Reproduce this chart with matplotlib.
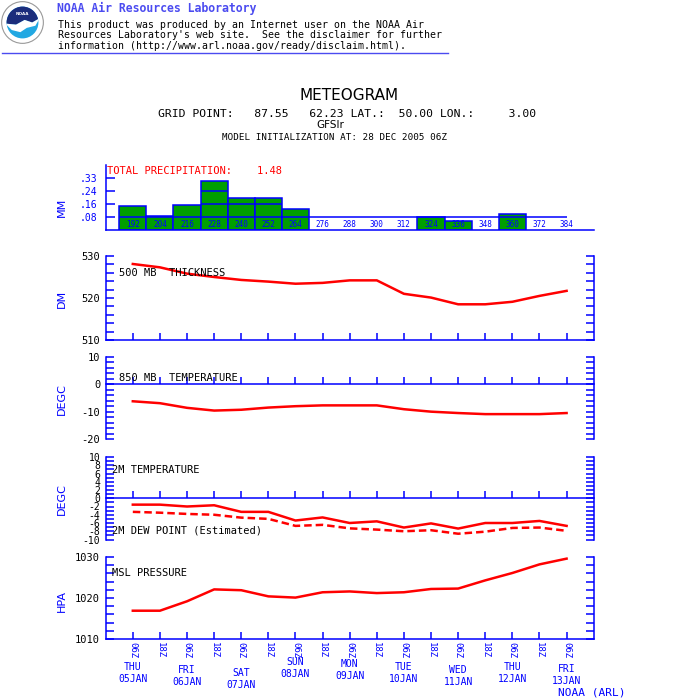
import matplotlib
matplotlib.use('Agg')
import matplotlib.pyplot as plt
import matplotlib.transforms as mtrans
from matplotlib.patches import Circle, Polygon
import numpy as np

plt.rcParams['font.family'] = ['DejaVu Sans Mono']

# forecast hours (from 28 DEC 2005 06Z)
hours = [192, 204, 216, 228, 240, 252, 264, 276, 288, 300, 312, 324, 336, 348, 360, 372, 384]
precip = [0.15, 0.09, 0.16, 0.31, 0.20, 0.20, 0.135, 0, 0, 0, 0, 0.08, 0.055, 0, 0.10, 0, 0]
thick500 = [528.1, 527.3, 525.8, 525.0, 524.3, 523.9, 523.4, 523.6, 524.2, 524.2,
            521.0, 520.1, 518.5, 518.5, 519.1, 520.5, 521.7]
t850 = [-6.2, -6.9, -8.6, -9.6, -9.3, -8.5, -8.0, -7.7, -7.7, -7.7,
        -9.1, -10.0, -10.5, -10.9, -10.9, -10.9, -10.5]
t2m = [-1.55, -1.55, -2.0, -1.7, -3.3, -3.3, -5.4, -4.65, -6.0, -5.6,
       -7.1, -6.1, -7.35, -6.0, -6.0, -5.5, -6.7]
td2m = [-3.3, -3.5, -3.8, -4.0, -4.7, -5.0, -6.7, -6.45, -7.3, -7.6,
        -8.0, -7.75, -8.6, -8.1, -7.2, -7.1, -7.9]
mslp = [1016.9, 1016.9, 1019.2, 1022.1, 1021.9, 1020.4, 1020.1, 1021.4, 1021.6, 1021.2,
        1021.4, 1022.2, 1022.3, 1024.3, 1026.1, 1028.2, 1029.6]
hour_labels = ['06Z', '18Z'] * 8 + ['06Z']
day_names = ['THU', 'FRI', 'SAT', 'SUN', 'MON', 'TUE', 'WED', 'THU', 'FRI']
day_dates = ['05JAN', '06JAN', '07JAN', '08JAN', '09JAN', '10JAN', '11JAN', '12JAN', '13JAN']
day_hours = [192, 216, 240, 264, 288, 312, 336, 360, 384]
precip_ticks = [0.0825, 0.165, 0.2475, 0.33]
precip_ticklabels = ['.08', '.16', '.24', '.33']

BLUE = '#0000ff'
RED = '#ff0000'
GREEN = '#009f00'
W = H = 700.0
X0, X1 = 105.7, 593.7


def rect(top, bottom):
    return [X0 / W, 1 - bottom / H, (X1 - X0) / W, (bottom - top) / H]


def ftext(x, y, s, **kw):
    fig.text(x / W, 1 - y / H, s, **kw)


fig = plt.figure(figsize=(7, 7), dpi=100)
fig.patch.set_facecolor('white')

# ---- header / logo
lax = fig.add_axes([1 / W, 1 - 44 / H, 43 / W, 43 / H])
lax.set_xlim(-1, 1); lax.set_ylim(-1, 1); lax.set_aspect('equal'); lax.axis('off')
lax.add_patch(Circle((0, 0), 0.97, fc='white', ec='#999999', lw=0.8))
inner = Circle((0, 0), 0.74, fc='#22a8e2', ec='none')
lax.add_patch(inner)
top = Polygon([(-0.8, 0.8), (0.8, 0.8), (0.8, 0.2), (0.45, 0.0), (0.1, 0.12), (-0.3, -0.1), (-0.8, -0.05)],
              fc='#1b2d7c', ec='none')
lax.add_patch(top); top.set_clip_path(inner)
bird = Polygon([(-0.8, -0.05), (-0.3, -0.1), (0.1, 0.12), (0.45, 0.0), (0.8, 0.2), (0.6, -0.15),
                (0.2, -0.25), (-0.1, -0.45), (-0.5, -0.35)], fc='white', ec='none')
lax.add_patch(bird); bird.set_clip_path(inner)
lax.text(0, 0.38, 'NOAA', color='white', fontsize=3, ha='center', va='center', family='DejaVu Sans', weight='bold')

ftext(57, 8, 'NOAA Air Resources Laboratory', color='#4b4bf0', fontsize=8.3, weight='bold', va='center')
ftext(58, 25, 'This product was produced by an Internet user on the NOAA Air', fontsize=7.1, va='center')
ftext(58, 35.5, "Resources Laboratory's web site.  See the disclaimer for further", fontsize=7.1, va='center')
ftext(58, 46, 'information (http://www.arl.noaa.gov/ready/disclaim.html).', fontsize=7.1, va='center')
fig.add_artist(plt.Line2D([2 / W, 448 / W], [1 - 53 / H, 1 - 53 / H], color='#4b4bf0', lw=1))

# ---- titles
ftext(349, 96, 'METEOGRAM', fontsize=11, family='DejaVu Sans', ha='center', va='center')
ftext(347, 114, 'GRID POINT:   87.55   62.23 LAT.:  50.00 LON.:     3.00', fontsize=8.2, ha='center', va='center')
ftext(330, 125, 'GFSlr', fontsize=7.5, family='DejaVu Sans', ha='center', va='center')
ftext(335, 137, 'MODEL INITIALIZATION AT: 28 DEC 2005 06Z', fontsize=6.7, ha='center', va='center')


def style_axis(ax, ylim, yticks, ylabels, zero_axis=False, right=True, lsize=7.5):
    ax.set_xlim(180, 396)
    ax.set_ylim(*ylim)
    ax.set_facecolor('none')
    ax.spines['top'].set_visible(False)
    ax.spines['right'].set_visible(right)
    for s in ax.spines.values():
        s.set_color(BLUE)
        s.set_linewidth(1.1)
    if zero_axis:
        ax.spines['bottom'].set_position(('data', 0))
    ax.set_xticks(hours)
    ax.set_xticklabels([])
    ax.tick_params(axis='x', direction='in', length=5, width=1.1, color=BLUE)
    ax.set_yticks(yticks)
    ax.set_yticklabels(ylabels, fontsize=lsize)
    ax.tick_params(axis='y', direction='in', length=6, width=1.1, color=BLUE,
                   left=True, right=right, pad=4)


# ---- precipitation
ax0 = fig.add_axes(rect(165, 230))
ax0.set_xlim(180, 396)
ax0.set_ylim(0, 0.4125)
ax0.set_facecolor('none')
for s in ['top', 'right']:
    ax0.spines[s].set_visible(False)
for s in ['left', 'bottom']:
    ax0.spines[s].set_color(BLUE)
    ax0.spines[s].set_linewidth(1.1)
ax0.set_xticks([])
ax0.set_yticks(precip_ticks)
ax0.set_yticklabels(precip_ticklabels, fontsize=7, color=BLUE)
ax0.tick_params(axis='y', direction='in', length=6.5, width=1.1, color=BLUE, pad=6)
bh = [h for h, p in zip(hours, precip) if p > 0]
bp = [p for p in precip if p > 0]
ax0.bar(bh, bp, width=12, color=GREEN, edgecolor=BLUE, linewidth=1.1, zorder=2)
ax0.hlines(precip_ticks[0], hours[0] - 6, hours[-1], color=BLUE, lw=1.1, zorder=3)
for h, p in zip(hours, precip):
    for lev in precip_ticks[1:]:
        if p > lev:
            ax0.hlines(lev, h - 6, h + 6, color=BLUE, lw=1.1, zorder=3)
    ax0.text(h, 0.032, str(h), fontsize=5.5, color=BLUE, ha='center', va='center', zorder=4)
ax0.text(180.5, 0.372, 'TOTAL PRECIPITATION:    1.48', color=RED, fontsize=7.5, va='center')

# ---- 500 mb thickness
ax1 = fig.add_axes(rect(256, 340))
style_axis(ax1, (510, 530), list(range(510, 531, 2)),
           ['510', '', '', '', '', '520', '', '', '', '', '530'])
ax1.plot(hours, thick500, color=RED, lw=1.8)
ax1.text(186, 526, '500 MB  THICKNESS', fontsize=7.5, va='center')

# ---- 850 mb temperature
ax2 = fig.add_axes(rect(357, 439))
style_axis(ax2, (-20, 10), list(range(-20, 11, 2)),
           ['-20', '', '', '', '', '-10', '', '', '', '', '0', '', '', '', '', '10'], zero_axis=True)
ax2.plot(hours, t850, color=RED, lw=1.8)
ax2.text(186, 2.4, '850 MB  TEMPERATURE', fontsize=7.5, va='center')

# ---- 2m temperature / dew point
ax3 = fig.add_axes(rect(457, 539.5))
style_axis(ax3, (-10, 10), list(range(-10, 11)),
           [str(v) if v % 2 == 0 else '' for v in range(-10, 11)], zero_axis=True, lsize=7)
ax3.plot(hours, t2m, color=RED, lw=1.8)
ax3.plot(hours, td2m, color=RED, lw=1.8, linestyle=(0, (3, 1.6)))
ax3.text(183, 6.9, '2M TEMPERATURE', fontsize=7.5, va='center')
ax3.text(183, -7.9, '2M DEW POINT (Estimated)', fontsize=7.5, va='center')

# ---- msl pressure
ax4 = fig.add_axes(rect(557, 639))
style_axis(ax4, (1010, 1030), list(range(1010, 1031, 2)),
           ['1010', '', '', '', '', '1020', '', '', '', '', '1030'])
ax4.plot(hours, mslp, color=RED, lw=1.8)
ax4.text(183, 1026.2, 'MSL PRESSURE', fontsize=7.5, va='center')
ax4.set_xticklabels(hour_labels, rotation=-90, fontsize=6.5, color=BLUE)
ax4.tick_params(axis='x', pad=2)

# y axis titles
for yc, lab in [(207, 'MM'), (299, 'DM'), (399, 'DEGC'), (499, 'DEGC'), (601, 'HPA')]:
    ftext(62, yc, lab, color=BLUE, fontsize=8, family='DejaVu Sans', rotation=90, ha='center', va='center')

# day labels
tr = mtrans.blended_transform_factory(ax4.transData, fig.transFigure)
day_y = [667, 670, 673, 662, 664, 667, 670, 667, 669]
for h, n, d, y in zip(day_hours, day_names, day_dates, day_y):
    fig.text(h, 1 - y / H, n, transform=tr, color=BLUE, fontsize=7, ha='center', va='center')
    fig.text(h, 1 - (y + 12) / H, d, transform=tr, color=BLUE, fontsize=7, ha='center', va='center')
ftext(558, 692.5, 'NOAA (ARL)', color=BLUE, fontsize=8, va='center')

fig.savefig('out.png', dpi=100)
